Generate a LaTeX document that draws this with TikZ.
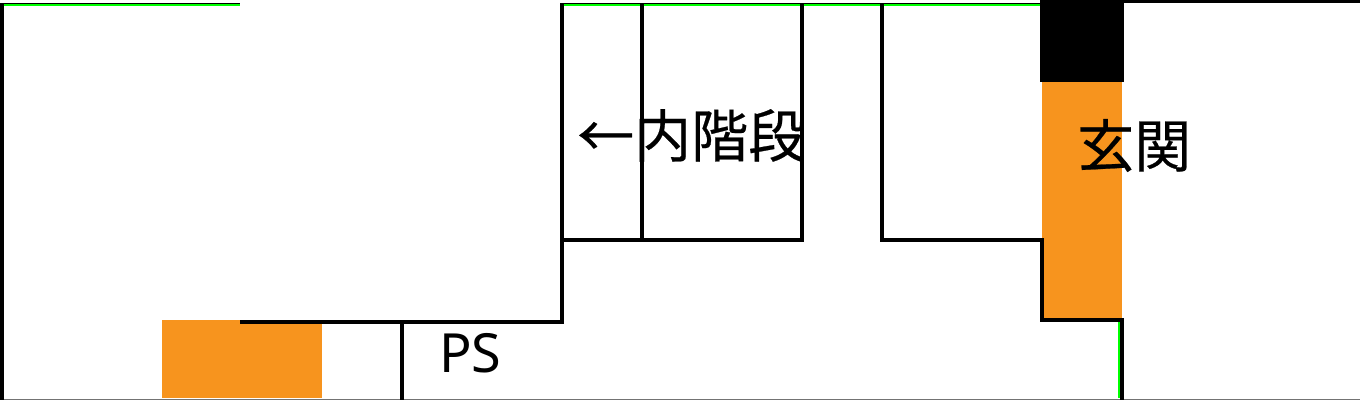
\documentclass[tikz,border=0pt]{standalone}
\usepackage{fontspec}
\usepackage{xcolor}
\usetikzlibrary{positioning}
\setmainfont{Noto Sans}
\newfontfamily\cjk[FakeBold=0.4]{Noto Sans CJK JP}
\definecolor{naranja}{RGB}{247,148,30}
\definecolor{verde}{RGB}{0,255,0}
\tikzset{
  wall/.style={draw=black,line width=4.6pt,line cap=butt},
  thinwall/.style={draw=black,line width=1.6pt},
  edgeline/.style={draw=black!55,line width=1.2pt},
  greenline/.style={draw=verde,line width=1.6pt},
  floorfill/.style={fill=naranja,draw=none},
  roomlabel/.style={inner sep=0pt,font=\cjk\fontsize{57}{57}\selectfont}
}
\begin{document}
\begin{tikzpicture}[x=1pt,y=-1pt]
\useasboundingbox (0,0) rectangle (1360,400);
% orange floors
\fill[floorfill] (162,320) rectangle (322,398);
\fill[floorfill] (1042,80) rectangle (1122,318);
\fill[black] (1040,0) rectangle (1124,82);
% outer lines
\draw[edgeline] (0,399.4) -- (1360,399.4);
\draw[wall] (2,3) -- (2,400);
\draw[thinwall] (4,3.7) -- (240,3.7);
\draw[greenline] (4,5) -- (240,5);
\draw[thinwall] (564,3.7) -- (1040,3.7);
\draw[greenline] (564,5) -- (1040,5);
\draw[thinwall,line width=3pt] (1124,1.5) -- (1360,1.5);
% walls
\draw[wall] (240,322) -- (564,322);
\draw[wall] (562,3) -- (562,324);
\draw[wall] (402,322) -- (402,400);
\draw[wall,line join=miter] (560,240) -- (802,240) -- (802,3);
\draw[wall] (642,3) -- (642,242);
\draw[wall,line join=miter] (882,3) -- (882,240) -- (1042,240) -- (1042,320) -- (1122,320) -- (1122,400);
\draw[greenline] (1119,322) -- (1119,398);
% labels
\node[roomlabel,anchor=base west] (stairs) at (577,157) {←内階段};
\node[roomlabel,anchor=base west] (entrance) at (1077,167) {玄関};
\node[roomlabel,anchor=base west,font=\fontsize{54}{54}\selectfont] (ps) at (439,372) {PS};
\end{tikzpicture}
\end{document}
